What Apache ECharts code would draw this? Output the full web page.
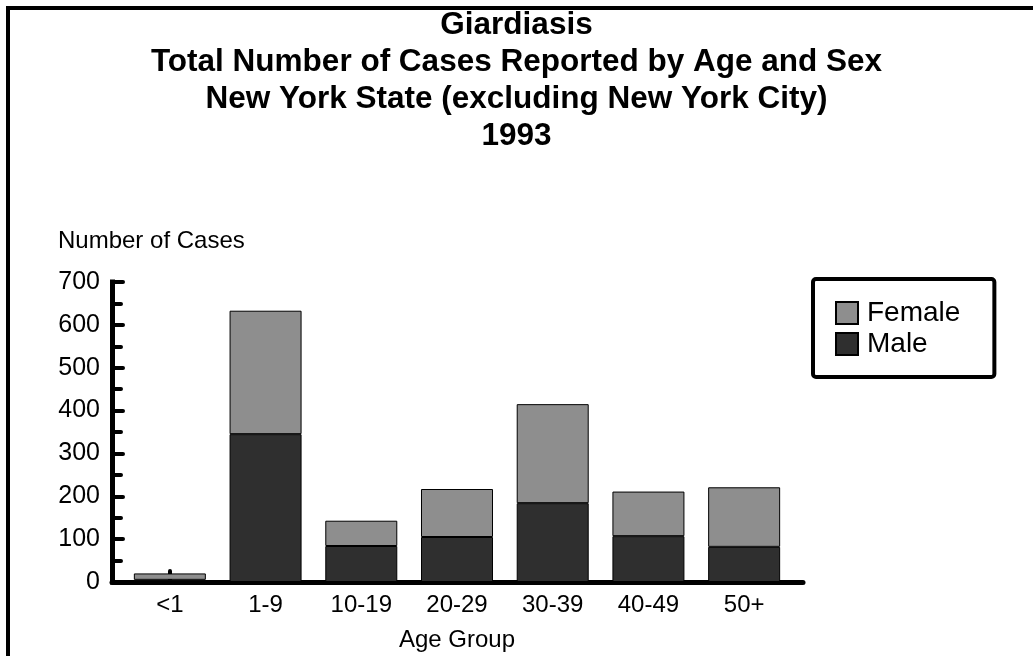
<!DOCTYPE html>
<html>
<head>
<meta charset="utf-8">
<title>Giardiasis 1993</title>
<script src="https://cdn.jsdelivr.net/npm/echarts@6/dist/echarts.min.js"></script>
<style>
	html, body { margin: 0; padding: 0; background: #fff; }
	#chart { width: 1033px; height: 656px; }
</style>
</head>
<body>
<div id="chart"></div>
<script>
	/*---------- 数据 ----------*/
	var ageGroups = ['<1', '1-9', '10-19', '20-29', '30-39', '40-49', '50+'];
	var maleCases = [5, 345, 84, 105, 184, 107, 82];
	var femaleCases = [15, 288, 59, 112, 231, 104, 139];
	/*--------------------------*/

	var FONT = '"Liberation Sans", Arial, sans-serif';

	var myChart = echarts.init(document.getElementById('chart'));
	myChart.setOption({
		animation: false,
		backgroundColor: '#fff',
		title: [{
			text: 'Giardiasis\nTotal Number of Cases Reported by Age and Sex\nNew York State (excluding New York City)\n1993',
			left: 'center',
			top: 7,
			padding: 0,
			textStyle: {
				fontFamily: FONT,
				fontSize: 31.5,
				fontWeight: 'bold',
				color: '#000',
				lineHeight: 37,
				align: 'center'
			}
		}, {
			text: 'Number of Cases',
			left: 58,
			top: 229,
			padding: 0,
			textStyle: {
				fontFamily: FONT,
				fontSize: 24,
				fontWeight: 'normal',
				color: '#000'
			}
		}],
		// 外框（左、上两条边）
		graphic: [{
			type: 'rect',
			shape: { x: 8, y: 8, width: 1100, height: 800 },
			style: { fill: 'none', stroke: '#000', lineWidth: 4 },
			silent: true
		}],
		legend: {
			orient: 'vertical',
			left: 813,
			top: 279,
			padding: [20, 34, 19, 22],
			itemWidth: 22,
			itemHeight: 22,
			itemGap: 3,
			icon: 'rect',
			borderColor: '#000',
			borderWidth: 4,
			borderRadius: 3,
			backgroundColor: '#fff',
			textStyle: {
				fontFamily: FONT,
				fontSize: 28,
				color: '#000',
				padding: [0, 0, 0, 4]
			},
			data: ['Female', 'Male']
		},
		grid: [{
			// 柱子所在区域
			left: 122,
			right: 241,
			top: 282,
			bottom: 74
		}, {
			// 横轴线稍长一些
			left: 112,
			right: 230,
			top: 282,
			bottom: 74
		}],
		xAxis: [{
			gridIndex: 0,
			type: 'category',
			data: ageGroups,
			boundaryGap: true,
			name: 'Age Group',
			nameLocation: 'middle',
			nameGap: 46,
			nameTextStyle: {
				fontFamily: FONT,
				fontSize: 24,
				color: '#000'
			},
			axisLine: { show: false },
			axisTick: {
				show: true,
				inside: true,
				alignWithLabel: true,
				length: 11,
				lineStyle: { color: '#000', width: 4, cap: 'round' }
			},
			axisLabel: {
				margin: 11,
				interval: 0,
				fontFamily: FONT,
				fontSize: 24,
				color: '#000'
			}
		}, {
			gridIndex: 1,
			type: 'value',
			min: 0,
			max: 1,
			axisLine: {
				show: true,
				onZero: false,
				lineStyle: { color: '#000', width: 5, cap: 'round' }
			},
			axisTick: { show: false },
			axisLabel: { show: false },
			splitLine: { show: false }
		}],
		yAxis: [{
			gridIndex: 0,
			type: 'value',
			min: 0,
			max: 700,
			interval: 100,
			offset: 10,
			splitLine: { show: false },
			axisLine: {
				show: true,
				lineStyle: { color: '#000', width: 5, cap: 'square' }
			},
			axisTick: {
				show: true,
				inside: true,
				length: 11,
				lineStyle: { color: '#000', width: 4, cap: 'round' }
			},
			minorTick: {
				show: true,
				splitNumber: 2,
				length: 9,
				lineStyle: { color: '#000', width: 4, cap: 'round' }
			},
			axisLabel: {
				margin: 12,
				fontFamily: FONT,
				fontSize: 25,
				color: '#000'
			}
		}, {
			gridIndex: 1,
			type: 'value',
			min: 0,
			max: 1,
			show: false
		}],
		series: [{
			name: 'Male',
			type: 'bar',
			stack: 'cases',
			barWidth: 72,
			itemStyle: {
				color: '#2f2f2f',
				borderColor: '#000',
				borderWidth: 1
			},
			data: maleCases
		}, {
			name: 'Female',
			type: 'bar',
			stack: 'cases',
			barWidth: 72,
			itemStyle: {
				color: '#8e8e8e',
				borderColor: '#000',
				borderWidth: 1
			},
			data: femaleCases
		}]
	});
</script>
</body>
</html>
